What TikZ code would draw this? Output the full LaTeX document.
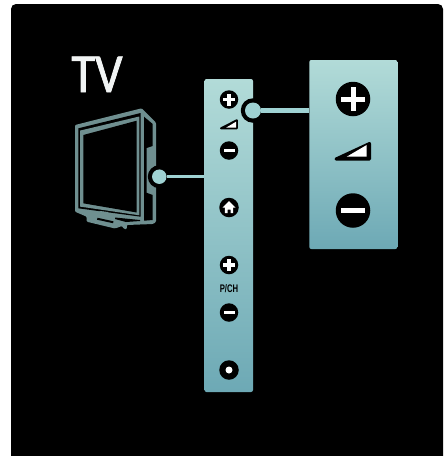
\documentclass[tikz,border=0pt]{standalone}
\usepackage{fontspec}
\setmainfont{Liberation Sans}
\newfontfamily\titlefont[FakeBold=1.6]{Carlito}
\definecolor{panelTop}{HTML}{B2DBD8}
\definecolor{panelBot}{HTML}{6DA9B5}
\definecolor{wire}{HTML}{9FD2D3}
\definecolor{tvCol}{HTML}{6F8F90}
\tikzset{
  keypanel/.style={rounded corners=2pt,top color=panelTop,bottom color=panelBot,draw=none},
  wireline/.style={draw=wire},
  btn/.style={circle,fill=black,draw=none,inner sep=0pt,minimum size=#1},
  sym/.style={fill=white,draw=none},
}
\begin{document}
\begin{tikzpicture}[x=1pt,y=-1pt]
\useasboundingbox (0,0) rectangle (445,456);
\fill[white] (0,0) rectangle (445,456);
\fill[black,rounded corners=5pt] (11,4) -- (443,4) -- (443,470) -- (11,470) -- cycle;
\path[clip] (0,0) rectangle (445,456);
\node[text=white!90!tvCol,font=\titlefont\fontsize{55}{55}\selectfont,inner sep=0pt,anchor=base,xscale=.88] (title) at (97,92) {TV};
% TV body
\fill[tvCol,rounded corners=1pt]
 (75,125) -- (141.7,108.3) -- (156,122.7) -- (156,222) -- (153,224) -- (126.7,225) -- (127,229) -- (124,229) -- (122,226) -- (115,228.5) -- (86.7,221.7) -- (86.7,216.7) -- (75,211.7) -- cycle;
% frame gap, bezel and screen
\fill[black] (78.3,128.3) -- (140.7,113) -- (140.7,216.7) -- (78.3,208.3) -- cycle;
\fill[tvCol] (80,130.6) -- (139.3,116.5) -- (139.3,215.3) -- (80,206.6) -- cycle;
\fill[black] (83.3,135) -- (136.7,120.7) -- (136.7,212.5) -- (83.3,203.3) -- cycle;
% side recess
\fill[black] (144,116.7) -- (152.7,124) -- (152.7,146) -- (146.5,148) -- (146.5,192.7) -- (152.7,195) -- (152.7,220) -- (144,220.7) -- cycle;
% stand slot and logo
\fill[black] (97.5,217.8) -- (113.5,221.3) -- (113,223.2) -- (97,219.7) -- cycle;
\fill[black] (115,217.5) -- (140,220) -- (140,221) -- (126,222) -- (115,219) -- cycle;
\fill[tvCol] (100,211) -- (108,212) -- (108,213.5) -- (100,212.5) -- cycle;
\node[btn=23] (tvjack) at (159.3,176.7) {};
\node[circle,fill=wire,inner sep=0pt,minimum size=14.5] (tvdot) at (159.3,176.7) {};
% panels
\node[keypanel,minimum width=48.5,minimum height=313,inner sep=0pt] (pnl) at (228.75,235.5) {};
\node[keypanel,minimum width=88,minimum height=189,inner sep=0pt] (big) at (353.3,154.5) {};
\draw[wireline,line width=3.5] (tvdot) -- (pnl.west |- tvdot);
\node[btn=24.5] (pjack) at (253,110.5) {};
\node[circle,fill=wire,inner sep=0pt,minimum size=16] (pdot) at (253,110.5) {};
\draw[wireline,line width=5] (pdot) -- (big.west |- pdot);
% small buttons
\node[btn=18.5] (sp) at (229,99.5) {};
\fill[sym] (227.2,93.5) rectangle (230.8,105.5); \fill[sym] (223,97.7) rectangle (235,101.3);
\fill[black,draw=black,line width=2,line join=round] (221,128.3) -- (236.8,120.3) -- (236.8,128.3) -- cycle;
\fill[sym] (226,127.7) -- (236,121.7) -- (236,127.7) -- cycle;
\node[btn=18.5] (sm) at (229,150.5) {};
\fill[sym] (223.5,148.8) rectangle (234.5,152.2);
\node[btn=19.5] (home) at (229,207.5) {};
\fill[sym] (222.5,207.5) -- (229,201) -- (235.5,207.5) -- (233.2,207.5) -- (233.2,213) -- (230.5,213) -- (230.5,209.5) -- (227.5,209.5) -- (227.5,213) -- (224.8,213) -- (224.8,207.5) -- cycle;
\node[btn=18.5] (cp) at (229,265) {};
\fill[sym] (227.2,259) rectangle (230.8,271); \fill[sym] (223,263.2) rectangle (235,266.8);
\node[font=\bfseries\fontsize{11}{11}\selectfont,text=black,inner sep=0pt,xscale=.7] (pch) at (229,289) {P/CH};
\node[btn=18.5] (cm) at (229,312.5) {};
\fill[sym] (223.5,310.8) rectangle (234.5,314.2);
\node[btn=19.5] (pw) at (229,370) {};
\node[circle,fill=white,inner sep=0pt,minimum size=7] (pwd) at (229,370) {};
% big buttons
\node[btn=34.5] (bp) at (353,99) {};
\fill[sym] (350.5,87) rectangle (355.5,111); \fill[sym] (341,96.5) rectangle (365,101.5);
\fill[black,draw=black,line width=3,line join=round] (336,159) -- (369.5,143.5) -- (369.5,159) -- cycle;
\fill[sym] (346.7,156.7) -- (366.7,145) -- (366.7,156.7) -- cycle;
\node[btn=34.5] (bm) at (353,210.5) {};
\fill[sym] (341,208) rectangle (365,213);
\end{tikzpicture}
\end{document}
